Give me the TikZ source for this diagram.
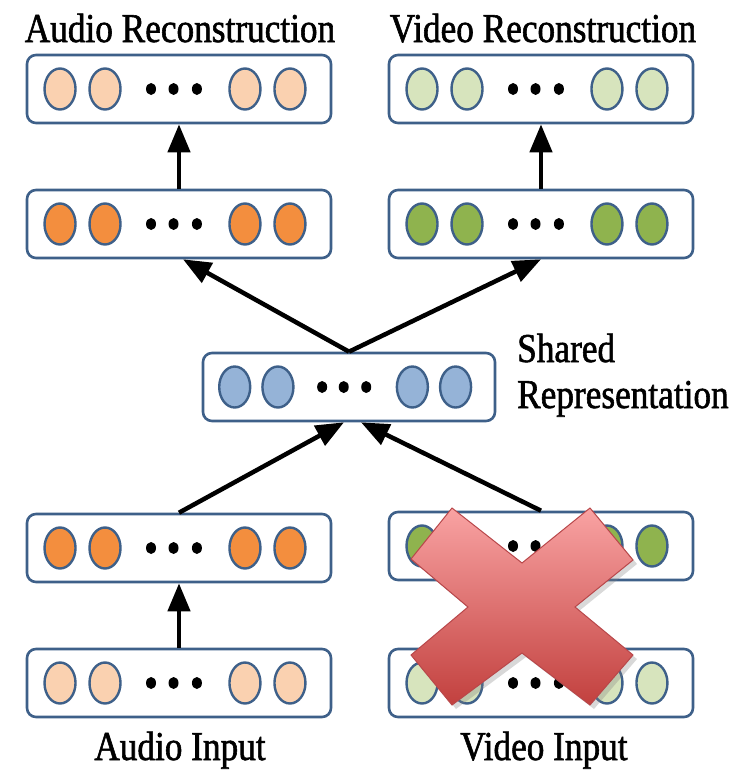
\documentclass[tikz,border=0pt]{standalone}
\usepackage{fontspec}
\setmainfont{Liberation Serif}[FakeStretch=0.86,FakeBold=1.4]
\usetikzlibrary{arrows.meta,shapes.geometric,shadows,calc}

\definecolor{edgeblue}{HTML}{3E6089}
\definecolor{peach}{HTML}{FAD1B0}
\definecolor{orangeunit}{HTML}{F38E3E}
\definecolor{palegreen}{HTML}{D7E4BD}
\definecolor{greenunit}{HTML}{8FB34E}
\definecolor{blueunit}{HTML}{95B3D7}
\definecolor{crosstop}{HTML}{F9A3A3}
\definecolor{crossbot}{HTML}{C2403E}
\definecolor{crossedge}{HTML}{B8474A}

\tikzset{
  layerbox/.style={draw=edgeblue, line width=2.6pt, rounded corners=9pt,
    minimum height=68pt, inner sep=0pt, fill=white},
  unit/.style={ellipse, draw=edgeblue, line width=2.4pt, minimum width=31pt,
    minimum height=41pt, inner sep=0pt},
  dotunit/.style={ellipse, fill=black, minimum width=10pt, minimum height=12pt,
    inner sep=0pt},
  flow/.style={line width=4.5pt, -{Triangle[width=22pt,length=28pt]}},
  caption/.style={font=\fontsize{41}{45}\selectfont, inner sep=0pt},
}

% one layer: box, four units and three dots
% #1 name, #2 centre x, #3 centre y, #4 width, #5 unit colour
\newcommand\unitlayer[5]{%
  \node[layerbox, minimum width=#4pt] (#1) at (#2,#3) {};
  \foreach \f [count=\k] in {0.1086,0.2566,0.717,0.865}
    \node[unit, fill=#5] (#1-u\k) at ({#2-#4/2+\f*#4},#3) {};
  \foreach \f [count=\k] in {0.408,0.482,0.559}
    \node[dotunit] (#1-d\k) at ({#2-#4/2+\f*#4},#3) {};
}

\begin{document}
\begin{tikzpicture}[x=1pt,y=-1pt]
\useasboundingbox (0,0) rectangle (732,772);

% layers
\unitlayer{ar}{179}{89}{304}{peach}
\unitlayer{vr}{541}{89}{304}{palegreen}
\unitlayer{ah}{179}{224}{304}{orangeunit}
\unitlayer{vh}{541}{224}{304}{greenunit}
\unitlayer{sh}{349}{387}{292}{blueunit}
\unitlayer{ab}{179}{548}{304}{orangeunit}
\unitlayer{vb}{541}{546}{304}{greenunit}
\unitlayer{ai}{179}{683}{304}{peach}
\unitlayer{vi}{541}{683}{304}{palegreen}

% connections
\draw[flow] (ah.north) -- (ar.south);
\draw[flow] (vh.north) -- (vr.south);
\draw[flow] (sh.north) -- ([xshift=4pt]ah.south);
\draw[flow] (sh.north) -- (vh.south);
\draw[flow] (ab.north) -- ([xshift=-5pt]sh.south);
\draw[flow] (vb.north) -- ([xshift=12pt]sh.south);
\draw[flow] (ai.north) -- (ab.south);

% labels
\node[caption, anchor=base] (t-ar) at (180,42) {Audio Reconstruction};
\node[caption, anchor=base] (t-vr) at (543,42) {Video Reconstruction};
\node[caption, anchor=base west] (t-sh1) at (517,362) {Shared};
\node[caption, anchor=base west] (t-sh2) at (517,408) {Representation};
\node[caption, anchor=base] (t-ai) at (180,760) {Audio Input};
\node[caption, anchor=base] (t-vi) at (544,760) {Video Input};

% missing video modality
\shade[top color=crosstop, bottom color=crossbot, draw=crossedge, line width=1pt,
  drop shadow={opacity=0.3, shadow xshift=4pt, shadow yshift=-4pt}]
  (452,508) -- (522,563) -- (590,508) -- (633,560) -- (575,607) -- (633,655)
  -- (590,705) -- (522,653) -- (452,705) -- (411,655) -- (468,607) -- (411,559)
  -- cycle;
\end{tikzpicture}
\end{document}
